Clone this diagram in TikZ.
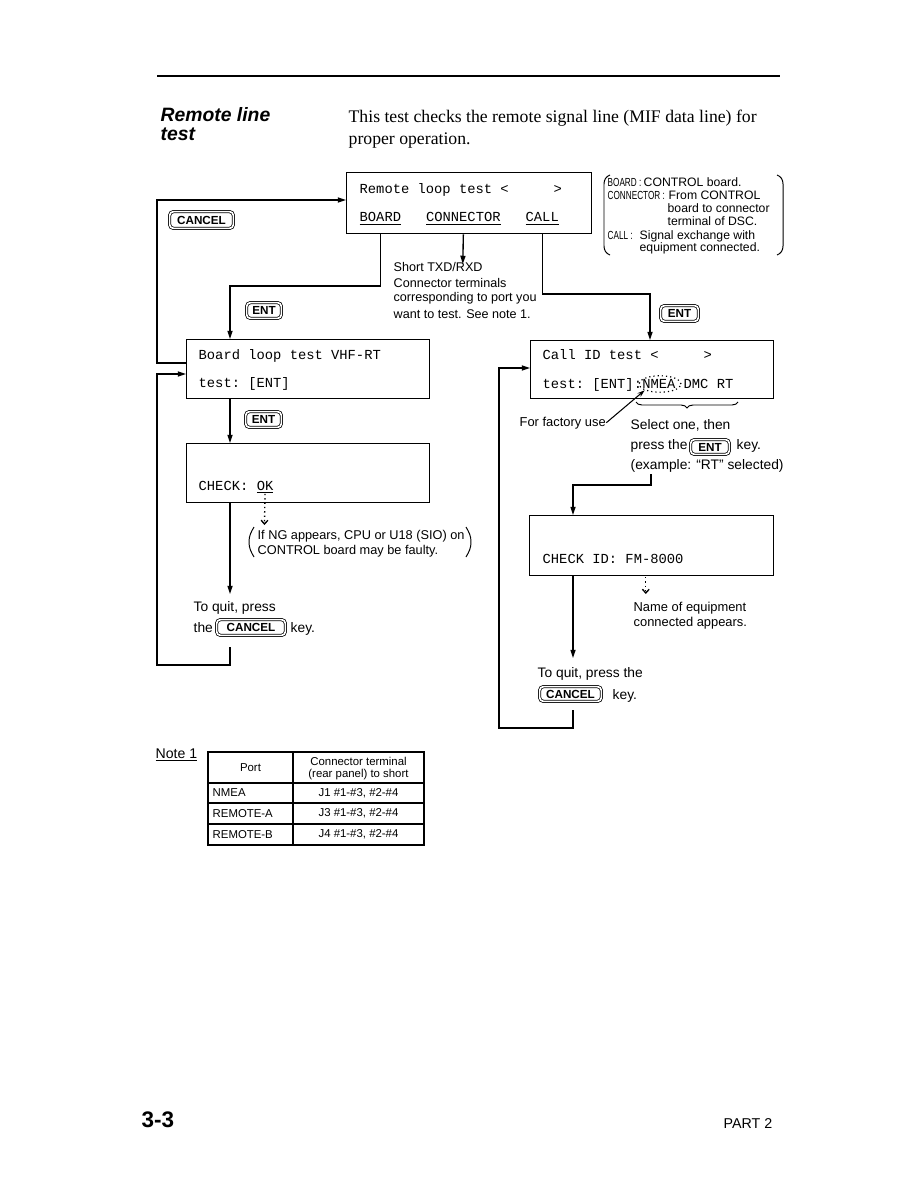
\documentclass[tikz,border=0pt]{standalone}
\usepackage{graphicx}
\usepackage{fontspec}
\setmainfont{Liberation Serif}
\setsansfont{Liberation Sans}
\setmonofont{Liberation Mono}
\usetikzlibrary{arrows.meta,calc,decorations.pathreplacing,shapes.geometric}
\newcommand\fs[2]{\fontsize{#1}{#2}\selectfont}
\newcommand\cond[1]{\scalebox{0.7}[1]{\fs{7.8}{9}#1}}
\newcommand\screenbox[5]{\node[screen, minimum width={(#4-#2)*0.6667pt}, minimum height={(#5-#3)*0.6667pt}] (#1) at (#2,#3) {};}
\newcommand\keynode[6]{\node[keybox, minimum width={(#4-#2)*0.6667pt-2.2pt}, minimum height={(#5-#3)*0.6667pt-2.2pt}] (#1) at ({(#2+#4)/2},{(#3+#5)/2}) {#6};}
\begin{document}
\begin{tikzpicture}[x=0.6667pt,y=-0.6667pt, line width=0.9pt,
  arr/.style={-{Triangle[length=5.5pt,width=3.4pt]}},
  thinarr/.style={line width=0.7pt,-{Stealth[length=5pt,width=3.2pt]}},
  darr/.style={dotted, line width=0.9pt, -{Straight Barb[length=2.5pt,width=4.5pt]}},
  screen/.style={draw, line width=0.9pt, anchor=north west, inner sep=0},
  mono/.style={font=\ttfamily\fs{9.2}{11}, anchor=base west, inner sep=0},
  lbl/.style={font=\sffamily\fs{8.4}{10}, anchor=base west, inner sep=0},
  nlbl/.style={font=\sffamily\fs{8.15}{9}, anchor=base west, inner sep=0},
  big/.style={font=\sffamily\fs{9.2}{11}, anchor=base west, inner sep=0},
  tbl/.style={font=\sffamily\fs{7.6}{9}, inner sep=0},
  keybox/.style={draw, double, double distance=1.1pt, line width=0.5pt, rounded corners=2.5pt, font=\sffamily\bfseries\fs{7.8}{8}, inner sep=0, anchor=center},
  paren/.style={line width=0.65pt}
]
\useasboundingbox (0,0) rectangle (918,1188);

% ---------- header ----------
\draw[line width=0.9pt] (157,76) -- (780,76);
\node[font=\sffamily\bfseries\itshape\fs{12.9}{13}, anchor=base west, inner sep=0] (h1) at (160,122) {Remote line};
\node[font=\sffamily\bfseries\itshape\fs{12.9}{13}, anchor=base west, inner sep=0] (h2) at (160,141) {test};
\node[font=\rmfamily\fs{11.8}{14}, anchor=base west, inner sep=0] (p1) at (348,123) {This test checks the remote signal line (MIF data line) for};
\node[font=\rmfamily\fs{11.8}{14}, anchor=base west, inner sep=0] (p2) at (348,145) {proper operation.};

% ---------- screens ----------
\screenbox{b1}{346}{172}{591}{233}
\screenbox{b2}{186}{339}{429}{398}
\screenbox{b4}{186}{443}{429}{502}
\screenbox{b3}{530}{340}{773}{398}
\screenbox{b5}{529}{515}{773}{575}

\node[mono] (t1a) at (359,194) {Remote loop test <};
\node[mono] (t1b) at (553,194) {>};
\node[mono] (wBoard) at (359,222) {\underline{BOARD}};
\node[mono] (wConn) at (425.4,222) {\underline{CONNECTOR}};
\node[mono] (wCall) at (525,222) {\underline{CALL}};

\node[mono] (t2a) at (198,359) {Board loop test VHF-RT};
\node[mono] (t2b) at (198,387) {test: [ENT]};

\node[mono] (t4a) at (198,490) {CHECK:};
\node[mono] (wOK) at (256.1,490) {\underline{OK}};

\node[mono] (t3a) at (542,359) {Call ID test <};
\node[mono] (t3b) at (703,359) {>};
\node[mono] (t3c) at (542,388) {test: [ENT]:};
\node[mono] (wNmea) at (641.6,388) {NMEA};
\node[mono] (t3d) at (683,388) {DMC RT};
\node[ellipse, draw, dotted, line width=0.8pt, minimum width=28pt, minimum height=11pt, inner sep=0] (ell) at (660,384) {};

\node[mono] (t5a) at (542,563) {CHECK ID: FM-8000};
\coordinate (dash5) at (645.8,577);
\coordinate (dash5e) at (645.8,594);

% ---------- right note ----------
\draw[paren] (610,175) to[out=200,in=90] (604,184) -- (604,246) to[out=-90,in=160] (610,255);
\draw[paren] (777,175) to[out=-20,in=90] (783,184) -- (783,246) to[out=-90,in=20] (777,255);
\node[nlbl] (n1a) at (607,187) {\cond{BOARD :}};
\node[nlbl] (n1b) at (643,187) {CONTROL board.};
\node[nlbl] (n2a) at (607,200) {\cond{CONNECTOR :}};
\node[nlbl] (n2b) at (668,200) {From CONTROL};
\node[nlbl] (n3) at (667,213) {board to connector};
\node[nlbl] (n4) at (667,226) {terminal of DSC.};
\node[nlbl] (n5a) at (607,239) {\cond{CALL :}};
\node[nlbl] (n5b) at (639,239) {Signal exchange with};
\node[nlbl] (n6) at (639,252) {equipment connected.};

% ---------- keys ----------
\keynode{kCancel1}{168}{210}{235}{230}{CANCEL}
\keynode{kEnt1}{245}{301}{283}{320}{ENT}
\keynode{kEnt2}{659}{304}{700}{323}{ENT}
\keynode{kEnt3}{244}{410}{283}{429}{ENT}
\keynode{kEnt4}{689}{438}{731}{456}{ENT}
\keynode{kCancel2}{215}{618}{287}{637}{CANCEL}
\keynode{kCancel3}{538}{685}{603}{703}{CANCEL}

% ---------- labels ----------
\node[lbl] (s1) at (393,271) {Short TXD/RXD};
\node[lbl] (s2) at (393,287) {Connector terminals};
\node[lbl] (s3) at (393,302) {corresponding to port you};
\node[lbl] (s4) at (393,318) {want to test. See note 1.};

\draw[paren] (254,527) to[out=240,in=90] (249,542) to[out=-90,in=120] (254,557);
\draw[paren] (466,527) to[out=-60,in=90] (471,542) to[out=-90,in=60] (466,557);
\node[lbl, font=\sffamily\fs{8.5}{10}] (ng1) at (257,539) {If NG appears, CPU or U18 (SIO) on};
\node[lbl, font=\sffamily\fs{8.5}{10}] (ng2) at (257,554) {CONTROL board may be faulty.};

\node[big] (q1) at (193,611) {To quit, press};
\node[big] (q2) at (193,632) {the};
\node[big] (q3) at (290,632) {key.};

\node[lbl, font=\sffamily\fs{8.6}{10}] (fac) at (519,426) {For factory use};
\node[big] (sel1) at (630,429) {Select one, then};
\node[big] (sel2) at (630,449) {press the};
\node[big] (sel3) at (736,449) {key.};
\node[big] (sel4) at (630,469) {(example: “RT” selected)};

\node[lbl, font=\sffamily\fs{8.6}{10}] (ne1) at (633,611) {Name of equipment};
\node[lbl, font=\sffamily\fs{8.6}{10}] (ne2) at (633,626) {connected appears.};

\node[big] (rq1) at (537,677) {To quit, press the};
\node[big] (rq2) at (612,699) {key.};

% brace under NMEA DMC RT, tip pointing down
\draw[line width=0.65pt, decorate, decoration={brace, amplitude=4pt}] (738,402) -- (636,402);

% ---------- coordinates ----------
\coordinate (cl) at (157,200);
\coordinate (kb) at (230,286);
\coordinate (kc) at (462.8,264);
\coordinate (kcall) at (650,294);
\coordinate (okd) at (264.4,525);
\coordinate (qa) at (230,594);
\coordinate (ql1) at (230,647);
\coordinate (ql2) at (157,665);
\coordinate (sa) at (651,474);
\coordinate (sb) at (573,485);
\coordinate (ra) at (573,658);
\coordinate (rl1) at (573,710);
\coordinate (rl2) at (499,728);

% ---------- connectors ----------
\draw[arr] ($(b2.north west)+(0,24)$) -| (cl) -- (cl -| b1.west);
\draw[arr] (wBoard |- b1.south) |- (kb) -- (kb |- b2.north);
\draw[arr] (wConn |- b1.south) -- (kc);
\draw[arr] (wCall |- b1.south) |- (kcall) -- (kcall |- b3.north);
\draw[arr] (kb |- b2.south) -- (kb |- b4.north);
\draw[darr] (wOK.south) -- (okd);
\draw[arr] (kb |- b4.south) -- (qa);
\draw[arr] (ql1) |- (ql2) |- ($(b2.north west)+(0,35)$);

\draw[thinarr] (fac.east) -- (ell.south west);
\draw[arr] (sa) |- (sb) -- (sb |- b5.north);
\draw[darr] (dash5) -- (dash5e);
\draw[arr] (sb |- b5.south) -- (ra);
\draw[arr] (rl1) |- (rl2) |- ($(b3.north west)+(0,28)$);

% ---------- table ----------
\node[font=\sffamily\fs{9.4}{11}, anchor=base west, inner sep=0] (note) at (155,758) {\underline{Note 1}};
\draw[line width=0.9pt] (208,752) rectangle (424,845);
\draw[line width=0.7pt] (293,752) -- (293,845);
\draw[line width=0.7pt] (208,783) -- (424,783);
\draw[line width=0.7pt] (208,803) -- (424,803);
\draw[line width=0.7pt] (208,824) -- (424,824);
\node[tbl] (th1) at (250.5,767.5) {Port};
\node[tbl] (th2a) at (358.5,761) {Connector terminal};
\node[tbl] (th2b) at (358.5,775) {(rear panel) to short};
\node[tbl, anchor=west] (r1a) at (212,793) {NMEA};
\node[tbl] (r1b) at (358.5,793) {J1 \#1-\#3, \#2-\#4};
\node[tbl, anchor=west] (r2a) at (212,813.5) {REMOTE-A};
\node[tbl] (r2b) at (358.5,813.5) {J3 \#1-\#3, \#2-\#4};
\node[tbl, anchor=west] (r3a) at (212,834.5) {REMOTE-B};
\node[tbl] (r3b) at (358.5,834.5) {J4 \#1-\#3, \#2-\#4};

% ---------- footer ----------
\node[font=\sffamily\bfseries\fs{15}{16}, anchor=base west, inner sep=0] (pg) at (141,1127) {3-3};
\node[font=\sffamily\fs{9.5}{11}, anchor=base west, inner sep=0] (part) at (723,1128) {PART 2};
\end{tikzpicture}
\end{document}
